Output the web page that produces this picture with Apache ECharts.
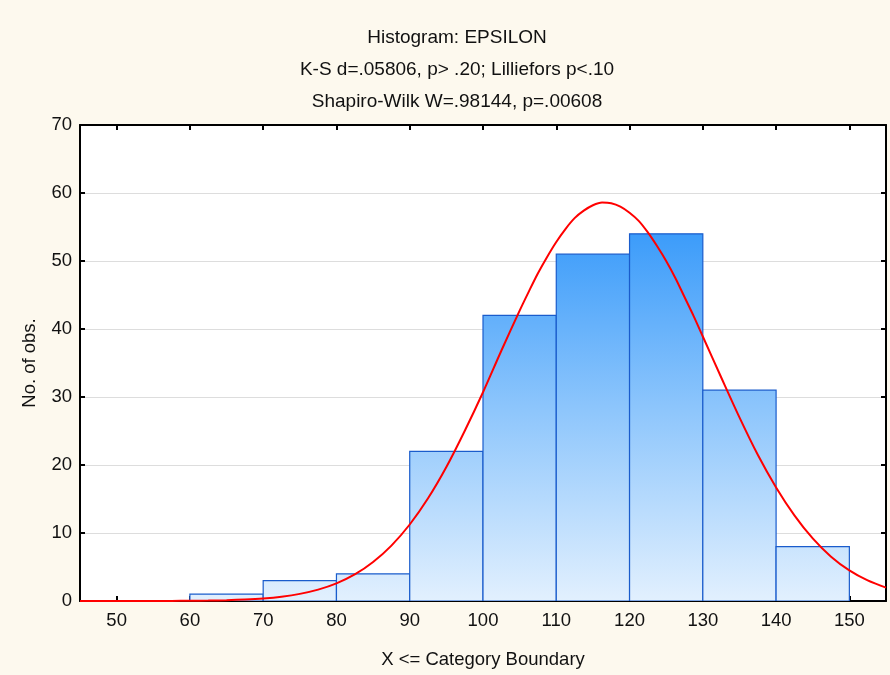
<!DOCTYPE html>
<html><head><meta charset="utf-8">
<script src="https://cdn.jsdelivr.net/npm/echarts@6/dist/echarts.min.js"></script>
<style>html,body{margin:0;padding:0;background:#fdf9ee}#c{width:890px;height:675px}</style>
</head><body><div id="c"></div>
<script>
const titleLines = ["Histogram: EPSILON", "K-S d=.05806, p> .20; Lilliefors p<.10", "Shapiro-Wilk W=.98144, p=.00608"];
const binLower = [50, 60, 70, 80, 90, 100, 110, 120, 130, 140];
const binUpper = [60, 70, 80, 90, 100, 110, 120, 130, 140, 150];
const binCounts = [0, 1, 3, 4, 22, 42, 51, 54, 31, 8];
const curveX = [45, 47.5, 50, 52.5, 55, 57.5, 60, 62.5, 65, 67.5, 70, 72.5, 75, 77.5, 80, 82.5, 85, 87.5, 90, 92.5, 95, 97.5, 100, 102.5, 105, 106.25, 107.5, 108.75, 110, 111.25, 112.5, 113.75, 115, 116.25, 117.5, 118.75, 120, 121.25, 122.5, 123.75, 125, 126.25, 127.5, 128.75, 130, 132.5, 135, 137.5, 140, 142.5, 145, 147.5, 150, 152.5, 155];
const curveY = [0.0, 0.001, 0.002, 0.004, 0.009, 0.018, 0.034, 0.066, 0.12, 0.22, 0.38, 0.64, 1.05, 1.67, 2.59, 3.9, 5.73, 8.15, 11.25, 15.1, 19.7, 25.0, 30.7, 36.8, 42.7, 45.5, 48.2, 50.6, 52.8, 54.7, 56.3, 57.4, 58.2, 58.6, 58.5, 58.0, 57.1, 55.9, 54.2, 52.2, 50.0, 47.5, 44.7, 41.9, 38.9, 32.9, 27.0, 21.5, 16.7, 12.6, 9.2, 6.52, 4.5, 3.02, 1.97];
const xTicks = [50, 60, 70, 80, 90, 100, 110, 120, 130, 140, 150];
const yTicks = [0, 10, 20, 30, 40, 50, 60, 70];

const chart = echarts.init(document.getElementById('c'), null, {renderer: 'canvas'});
const font = 'Liberation Sans, Arial, sans-serif';
const fs = 18.5;
const barData = binLower.map((lo, i) => [lo, binUpper[i], binCounts[i]]);
const curveData = curveX.map((x, i) => [x, curveY[i]]);

const option = {
  backgroundColor: '#fdf9ee',
  animation: false,
  title: titleLines.map((t, i) => ({
    text: t, left: 452, top: 22 + i * 32, textAlign: 'center',
    textStyle: {fontFamily: font, fontSize: 19, lineHeight: 22, fontWeight: 'normal', color: '#111'}
  })),
  grid: [{left: 80, right: 4, top: 125, bottom: 74, show: true, backgroundColor: '#ffffff', borderWidth: 0}],
  xAxis: [{
    type: 'value', min: 45, max: 155,
    name: 'X <= Category Boundary', nameLocation: 'middle', nameGap: 49,
    nameTextStyle: {fontFamily: font, fontSize: fs, color: '#111'},
    axisLine: {show: true, onZero: false, lineStyle: {color: '#000', width: 2}},
    axisTick: {show: true, inside: true, length: 5, customValues: xTicks, lineStyle: {color: '#000', width: 2}},
    axisLabel: {customValues: xTicks, fontFamily: font, fontSize: fs, color: '#111', margin: 10},
    splitLine: {show: false}
  }, {
    type: 'value', min: 45, max: 155, position: 'top',
    axisLine: {show: true, onZero: false, lineStyle: {color: '#000', width: 2}},
    axisTick: {show: true, inside: true, length: 5, customValues: xTicks, lineStyle: {color: '#000', width: 2}},
    axisLabel: {show: false}, splitLine: {show: false}
  }],
  yAxis: [{
    type: 'value', min: 0, max: 70, interval: 10,
    name: 'No. of obs.', nameLocation: 'middle', nameGap: 41, nameRotate: 90,
    nameTextStyle: {fontFamily: font, fontSize: fs, color: '#111'},
    axisLine: {show: true, onZero: false, lineStyle: {color: '#000', width: 2}},
    axisTick: {show: true, inside: true, length: 5, lineStyle: {color: '#000', width: 2}},
    axisLabel: {fontFamily: font, fontSize: fs, color: '#111', margin: 8},
    splitLine: {show: true, lineStyle: {color: '#dddddd', width: 1}}
  }, {
    type: 'value', min: 0, max: 70, interval: 10, position: 'right',
    axisLine: {show: true, onZero: false, lineStyle: {color: '#000', width: 2}},
    axisTick: {show: true, inside: true, length: 5, lineStyle: {color: '#000', width: 2}},
    axisLabel: {show: false}, splitLine: {show: false}
  }],
  series: [{
    type: 'custom',
    xAxisIndex: 0, yAxisIndex: 0,
    data: barData,
    clip: true,
    renderItem: function (params, api) {
      const lo = api.value(0), hi = api.value(1), c = api.value(2);
      const p0 = api.coord([lo, 0]);
      const p1 = api.coord([hi, c]);
      const top = api.coord([lo, 70])[1];
      const bot = api.coord([lo, 0])[1];
      return {
        type: 'rect',
        shape: {x: p0[0], y: p1[1], width: p1[0] - p0[0], height: p0[1] - p1[1]},
        style: {
          fill: new echarts.graphic.LinearGradient(0, top, 0, bot, [
            {offset: 0, color: '#1880f2'},
            {offset: 0.22, color: '#3a9bfa'},
            {offset: 0.6, color: '#8ec6fc'},
            {offset: 1, color: '#e2f0fe'}
          ], true),
          stroke: '#1a5ccc', lineWidth: 1.2
        }
      };
    },
    z: 2
  }, {
    type: 'line',
    xAxisIndex: 0, yAxisIndex: 0,
    data: curveData,
    smooth: 0.3, showSymbol: false, symbol: 'none',
    lineStyle: {color: '#ff0000', width: 2},
    z: 3
  }]
};
chart.setOption(option);
</script>
</body></html>
